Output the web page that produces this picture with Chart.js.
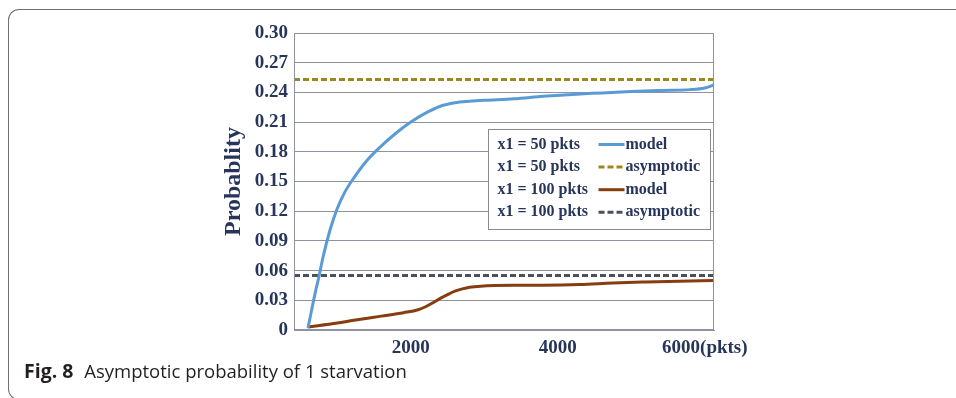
<!DOCTYPE html>
<html>
<head>
<meta charset="utf-8">
<script src="https://cdn.jsdelivr.net/npm/chart.js@4.4.1/dist/chart.umd.min.js"></script>
<style>
  html, body { margin: 0; padding: 0; background: #fff; }
  body { width: 956px; height: 398px; position: relative; overflow: hidden; }
  .frame {
    position: absolute; left: 8px; top: 9px; width: 1000px; height: 389px;
    border: 1.5px solid #707070; border-right: none;
    border-radius: 11px 0 0 11px;
  }
  #wrap { position: absolute; left: 0; top: 0; width: 956px; height: 398px; }
  .caption {
    position: absolute; left: 24px; top: 361px;
    font-family: 'Open Sans', 'Noto Sans', sans-serif; font-size: 18.5px; line-height: 20px;
    color: #231f20; white-space: nowrap;
  }
  .caption b { font-weight: 700; font-size: 19.5px; margin-right: 6px; }
</style>
</head>
<body>
<div class="frame"></div>
<div id="wrap"><canvas id="chart" width="956" height="398"></canvas></div>
<div class="caption"><b>Fig. 8</b> Asymptotic probability of 1 starvation</div>
<script>
// Starvation probability vs. buffer occupancy (pkts)
const model50Pkts = [600, 700, 750, 800, 900, 1000, 1100, 1200, 1400, 1600, 1800, 2000, 2200, 2400, 2600, 2800, 3000, 3400, 3800, 4200, 4600, 5000, 5400, 5800, 6000, 6120];
const model50Prob = [0.002, 0.038, 0.054, 0.072, 0.101, 0.123, 0.139, 0.151, 0.171, 0.186, 0.199, 0.210, 0.219, 0.226, 0.2295, 0.231, 0.232, 0.2335, 0.236, 0.238, 0.2395, 0.241, 0.242, 0.2428, 0.2445, 0.2475];

const model100Pkts = [600, 1000, 1200, 1600, 1900, 2100, 2200, 2300, 2400, 2500, 2600, 2700, 2800, 2950, 3400, 3800, 4300, 4750, 5200, 5650, 6120];
const model100Prob = [0.003, 0.007, 0.0095, 0.014, 0.0175, 0.0205, 0.0235, 0.0275, 0.032, 0.0358, 0.0392, 0.0415, 0.0432, 0.0443, 0.0452, 0.0453, 0.046, 0.0475, 0.0485, 0.0493, 0.050];

const asymptote50 = 0.253;
const asymptote100 = 0.055;

const xMin = 410;
const xMax = 6125;
const xTickValues = [2000, 4000, 6000];
const xTickLabels = ['2000', '4000', '6000(pkts)'];
const yTickLabels = ['0', '0.03', '0.06', '0.09', '0.12', '0.15', '0.18', '0.21', '0.24', '0.27', '0.30'];

const legendGroups = ['x1 = 50 pkts', 'x1 = 50 pkts', 'x1 = 100 pkts', 'x1 = 100 pkts'];
const legendKinds = ['model', 'asymptotic', 'model', 'asymptotic'];

const SERIF = "'Liberation Serif', 'Times New Roman', serif";
const NAVY = '#27355a';
const GRID = '#8e92a4';

const toPoints = (xs, ys) => xs.map((x, i) => ({ x: x, y: ys[i] }));
const flatLine = (v) => [{ x: xMin, y: v }, { x: xMax, y: v }];

const datasets = [
  { data: toPoints(model50Pkts, model50Prob), borderColor: '#5b9bd5', borderWidth: 3, borderDash: [] },
  { data: flatLine(asymptote50), borderColor: '#9a8720', borderWidth: 3, borderDash: [6, 3] },
  { data: toPoints(model100Pkts, model100Prob), borderColor: '#863d10', borderWidth: 3, borderDash: [] },
  { data: flatLine(asymptote100), borderColor: '#4b505d', borderWidth: 3, borderDash: [6, 3] }
].map((d, i) => Object.assign(d, {
  label: legendGroups[i] + ' ' + legendKinds[i],
  group: legendGroups[i],
  kind: legendKinds[i],
  pointRadius: 0,
  fill: false,
  tension: 0.4,
  cubicInterpolationMode: 'monotone'
}));

// Thin frame round the plotting area
const plotFrame = {
  id: 'plotFrame',
  afterDatasetsDraw(chart) {
    const { ctx, chartArea: a } = chart;
    ctx.save();
    ctx.strokeStyle = GRID;
    ctx.lineWidth = 1;
    ctx.strokeRect(Math.round(a.left) + 0.5, Math.round(a.top) + 0.5,
                   Math.round(a.right - a.left) - 1, Math.round(a.bottom - a.top) - 1);
    ctx.restore();
  }
};

// Boxed legend inside the plot: group label, line sample, kind
const boxLegend = {
  id: 'boxLegend',
  afterDraw(chart, args, opts) {
    const { ctx, chartArea: a } = chart;
    const left = Math.round(a.left + opts.offsetX) + 0.5;
    const top = Math.round(a.top + opts.offsetY) + 0.5;
    ctx.save();
    ctx.fillStyle = '#ffffff';
    ctx.fillRect(left, top, opts.width, opts.height);
    ctx.strokeStyle = '#8a8a8a';
    ctx.lineWidth = 1;
    ctx.strokeRect(left, top, opts.width, opts.height);
    ctx.font = 'bold 16px ' + SERIF;
    ctx.textBaseline = 'middle';
    chart.data.datasets.forEach((ds, i) => {
      const y = top + opts.firstRow + i * opts.rowGap;
      ctx.fillStyle = NAVY;
      ctx.textAlign = 'left';
      ctx.fillText(ds.group, left + opts.textX, y);
      const w = ctx.measureText(ds.group).width;
      const end = left + opts.sampleEnd;
      const start = Math.max(left + opts.textX + w + 3, end - opts.sampleMin);
      ctx.beginPath();
      ctx.strokeStyle = ds.borderColor;
      ctx.lineWidth = ds.borderWidth;
      ctx.setLineDash(ds.borderDash || []);
      ctx.moveTo(start, y);
      ctx.lineTo(end, y);
      ctx.stroke();
      ctx.setLineDash([]);
      ctx.fillStyle = NAVY;
      ctx.fillText(ds.kind, left + opts.kindX, y);
    });
    ctx.restore();
  }
};

new Chart(document.getElementById('chart'), {
  type: 'line',
  data: { datasets },
  plugins: [plotFrame, boxLegend],
  options: {
    responsive: false,
    animation: false,
    layout: { padding: { left: 210, right: 242, top: 33, bottom: 0 } },
    plugins: {
      legend: { display: false },
      tooltip: { enabled: false },
      boxLegend: {
        offsetX: 194, offsetY: 96, width: 222, height: 100,
        textX: 9, sampleEnd: 136, sampleMin: 26, kindX: 137,
        firstRow: 15, rowGap: 22.6
      }
    },
    scales: {
      x: {
        type: 'linear',
        min: xMin,
        max: xMax,
        afterBuildTicks: (axis) => { axis.ticks = xTickValues.map(v => ({ value: v })); },
        afterFit: (axis) => { axis.height = 68; },
        grid: { display: false, drawTicks: false },
        border: { display: true, color: GRID, width: 1 },
        ticks: {
          padding: 7,
          color: NAVY,
          font: { family: SERIF, size: 19, weight: 'bold' },
          maxRotation: 0,
          autoSkip: false,
          callback: (v, i) => xTickLabels[i]
        }
      },
      y: {
        min: 0,
        max: 0.30,
        afterFit: (axis) => { axis.width = 84; },
        grid: { color: GRID, lineWidth: 1, drawTicks: false },
        border: { display: true, color: GRID, width: 1 },
        ticks: {
          stepSize: 0.03,
          padding: 6,
          color: NAVY,
          font: { family: SERIF, size: 19, weight: 'bold' },
          callback: (v, i) => yTickLabels[i]
        },
        title: {
          display: true,
          text: 'Probablity',
          color: NAVY,
          font: { family: SERIF, size: 24, weight: 'bold' },
          padding: { top: 9.5, bottom: 0 }
        }
      }
    }
  }
});
</script>
</body>
</html>
